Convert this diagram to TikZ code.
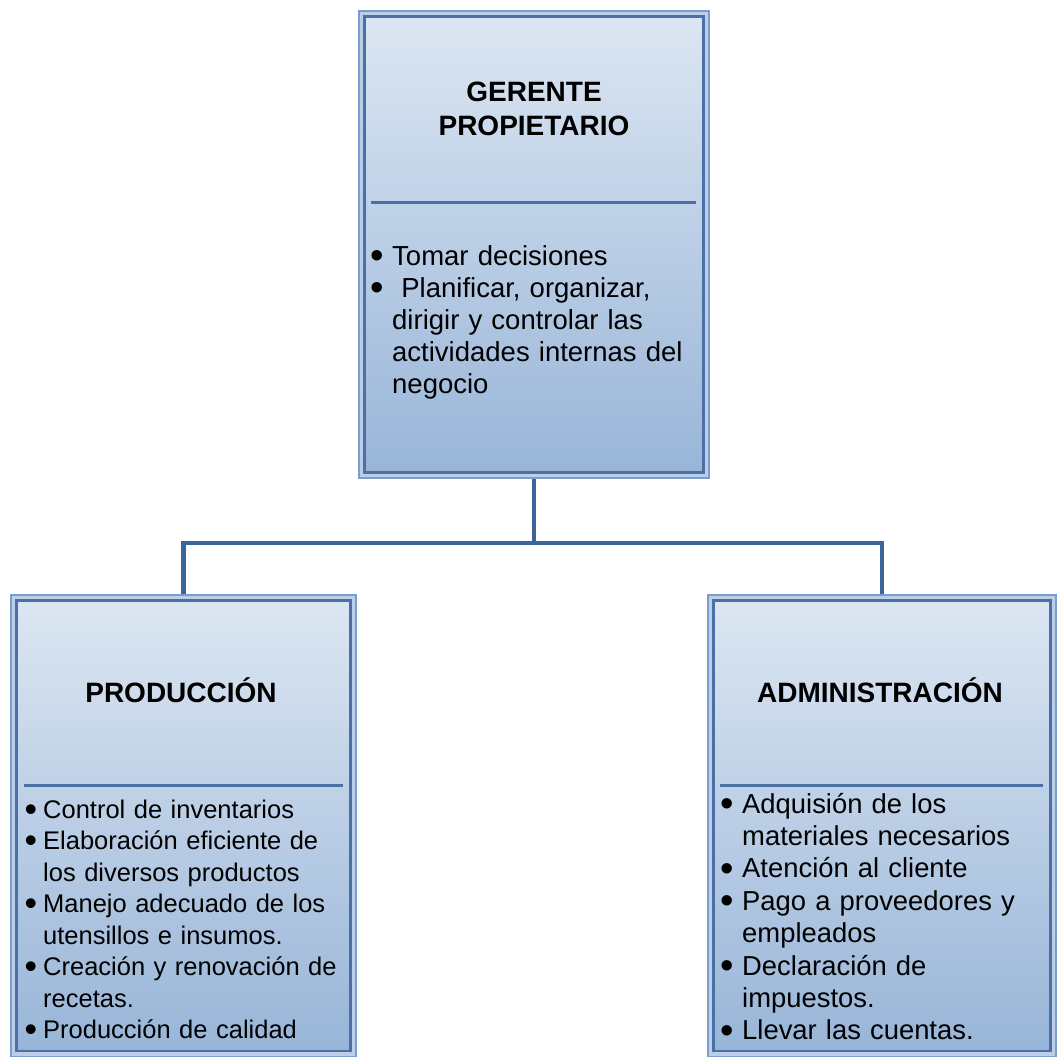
\documentclass[tikz,border=0pt]{standalone}
\usepackage{fontspec}
\setmainfont{Liberation Sans}
\usepackage{xcolor}
\usetikzlibrary{positioning,backgrounds}

\definecolor{boxtop}{HTML}{DCE6F2}
\definecolor{boxbottom}{HTML}{98B5D8}
\definecolor{boxouter}{HTML}{7B9DCC}
\definecolor{boxgap}{HTML}{BBCEE7}
\definecolor{boxline}{HTML}{4C70A4}
\definecolor{linkblue}{HTML}{3B6598}

% bullet hanging to the left of the line
\newcommand{\bul}[1][9pt]{\leavevmode\llap{\raisebox{-0.13em}{\scalebox{1.4}{\textbullet}}\hspace{#1}}}

\begin{document}
\begin{tikzpicture}[x=1pt, y=-1pt,
    orgbox/.style={rectangle, inner sep=0pt, top color=boxtop, bottom color=boxbottom,
        preaction={draw=boxouter, line width=13pt},
        preaction={draw=boxgap, line width=9.5pt},
        draw=boxline, line width=2.5pt},
    title/.style={anchor=base, inner sep=0pt, text width=320pt, align=center,
        font=\fontsize{28}{33}\selectfont\bfseries},
    items/.style={anchor=base west, inner sep=0pt, text width=330pt, align=left},
    sepline/.style={draw=boxline, line width=3pt},
    link/.style={draw=linkblue, line width=4.5pt}]

    \useasboundingbox (0,0) rectangle (1058,1057);

    % Boxes
    \node[orgbox, minimum width=339pt, minimum height=456pt] (gerente) at (534,244.5) {};
    \node[orgbox, minimum width=334pt, minimum height=450.5pt] (produccion) at (183.5,825.75) {};
    \node[orgbox, minimum width=337pt, minimum height=450.5pt] (administracion) at (882,825.75) {};

    % Titles
    \node[title] (gerentetit) at (534,102) {GERENTE\\PROPIETARIO};
    \node[title] (producciontit) at (181,702) {PRODUCCIÓN};
    \node[title] (administraciontit) at (880,702) {ADMINISTRACIÓN};

    % Dividing lines
    \draw[sepline] (371,202) -- (696,202);
    \draw[sepline] (24,785) -- (343,785);
    \draw[sepline] (720,785) -- (1043,785);

    % Tasks
    \node[items, font=\fontsize{27.5}{32.2}\selectfont] (gerentelist) at (392,265)
        {\bul[8pt]Tomar decisiones\\
         \bul[8pt]\ Planificar, organizar,\\
         dirigir y controlar las\\
         actividades internas del\\
         negocio};
    \node[items, font=\fontsize{25.5}{31.5}\selectfont] (produccionlist) at (43,818)
        {\bul[6pt]Control de inventarios\\
         \bul[6pt]Elaboración eficiente de\\
         los diversos productos\\
         \bul[6pt]Manejo adecuado de los\\
         utensillos e insumos.\\
         \bul[6pt]Creación y renovación de\\
         recetas.\\
         \bul[6pt]Producción de calidad};
    \node[items, font=\fontsize{27.4}{32.4}\selectfont] (administracionlist) at (742,813)
        {\bul[8pt]Adquisión de los\\
         materiales necesarios\\
         \bul[8pt]Atención al cliente\\
         \bul[8pt]Pago a proveedores y\\
         empleados\\
         \bul[8pt]Declaración de\\
         impuestos.\\
         \bul[8pt]Llevar las cuentas.};

    % Connectors behind the boxes
    \coordinate (bus) at (534,543);
    \begin{scope}[on background layer]
        \draw[link] (gerente.south) -- (bus);
        \draw[link] (produccion.north) |- (bus) -| (administracion.north);
    \end{scope}

\end{tikzpicture}
\end{document}
